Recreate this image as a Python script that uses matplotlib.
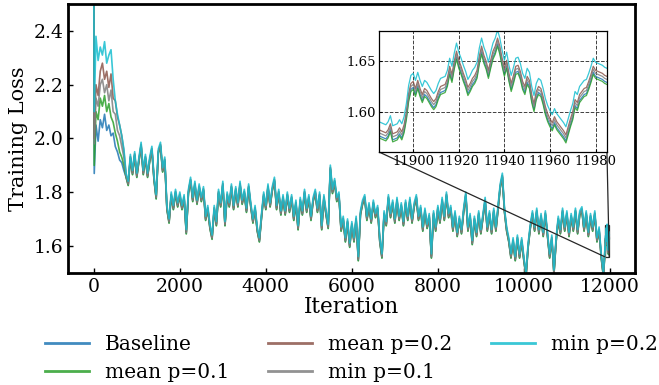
import matplotlib
matplotlib.use("Agg")
import matplotlib.pyplot as plt
import numpy as np
from mpl_toolkits.axes_grid1.inset_locator import mark_inset

plt.rcParams["font.family"] = ["DejaVu Serif"]

# series, in legend / drawing order
labels = ["Baseline", "mean p=0.1", "mean p=0.2", "min p=0.1", "min p=0.2"]
colors = ["tab:blue", "tab:green", "tab:brown", "tab:gray", "tab:cyan"]

# warm-up phase: every run read separately
iters_early = [0, 10, 50, 100, 150, 200, 250, 300, 350, 400, 450, 500, 550, 600, 650, 700]
early_baseline = [2.62, 1.87, 2.05, 1.99, 2.07, 2.04, 2.09, 2.03, 2.05, 2.01, 2.02, 1.97, 1.95, 1.92, 1.91, 1.88]
early_mean01 = [2.62, 1.90, 2.10, 2.07, 2.15, 2.12, 2.16, 2.10, 2.13, 2.08, 2.06, 2.02, 1.99, 1.95, 1.93, 1.90]
early_mean02 = [2.62, 2.00, 2.20, 2.16, 2.25, 2.28, 2.22, 2.25, 2.19, 2.24, 2.15, 2.14, 2.08, 2.05, 2.01, 1.95]
early_min01 = [2.62, 1.98, 2.15, 2.12, 2.20, 2.22, 2.17, 2.20, 2.14, 2.18, 2.10, 2.09, 2.03, 2.01, 1.97, 1.93]
early_min02 = [2.62, 2.10, 2.38, 2.29, 2.34, 2.31, 2.36, 2.28, 2.31, 2.33, 2.22, 2.14, 2.09, 2.05, 2.01, 1.96]

# rest of training (min p=0.1 curve, every 50 iterations from 750 to 11850)
loss_mid = [
    1.86, 1.83, 1.93, 1.87, 1.94, 1.86, 1.92, 1.975, 1.87, 1.93,
    1.86, 1.92, 1.96, 1.85, 1.78, 1.95, 1.975, 1.88, 1.92, 1.74,
    1.69, 1.79, 1.74, 1.80, 1.75, 1.79, 1.74, 1.78, 1.65, 1.80,
    1.845, 1.77, 1.83, 1.76, 1.82, 1.77, 1.81, 1.70, 1.74, 1.67,
    1.63, 1.74, 1.68, 1.80, 1.75, 1.83, 1.68, 1.79, 1.75, 1.82,
    1.74, 1.81, 1.75, 1.83, 1.76, 1.80, 1.73, 1.82, 1.75, 1.69,
    1.74, 1.66, 1.62, 1.71, 1.79, 1.74, 1.82, 1.75, 1.81, 1.845,
    1.74, 1.80, 1.72, 1.78, 1.72, 1.79, 1.73, 1.78, 1.70, 1.76,
    1.665, 1.77, 1.72, 1.80, 1.73, 1.78, 1.70, 1.77, 1.80, 1.73,
    1.79, 1.665, 1.78, 1.72, 1.67, 1.89, 1.80, 1.84, 1.77, 1.79,
    1.66, 1.70, 1.62, 1.69, 1.60, 1.68, 1.62, 1.70, 1.55, 1.72,
    1.76, 1.78, 1.70, 1.75, 1.69, 1.76, 1.71, 1.74, 1.62, 1.56,
    1.72, 1.68, 1.78, 1.71, 1.76, 1.69, 1.77, 1.70, 1.75, 1.68,
    1.76, 1.70, 1.77, 1.69, 1.75, 1.78, 1.70, 1.74, 1.66, 1.73,
    1.67, 1.71, 1.56, 1.72, 1.66, 1.74, 1.69, 1.77, 1.70, 1.79,
    1.71, 1.74, 1.66, 1.72, 1.64, 1.70, 1.65, 1.73, 1.79, 1.66,
    1.71, 1.61, 1.70, 1.64, 1.72, 1.65, 1.71, 1.77, 1.66, 1.72,
    1.65, 1.73, 1.66, 1.74, 1.82, 1.86, 1.73, 1.66, 1.62, 1.56,
    1.62, 1.55, 1.63, 1.56, 1.62, 1.55, 1.49, 1.60, 1.67, 1.72,
    1.66, 1.73, 1.65, 1.71, 1.64, 1.72, 1.64, 1.56, 1.63, 1.50,
    1.62, 1.70, 1.65, 1.73, 1.66, 1.72, 1.64, 1.71, 1.66, 1.73,
    1.65, 1.72, 1.735, 1.66, 1.72, 1.64, 1.71, 1.66, 1.72, 1.62,
    1.66, 1.56, 1.49,
]

# last 100 iterations, one per step (min p=0.1 curve)
loss_fine = [
    1.579, 1.578, 1.577, 1.576, 1.579, 1.585, 1.575, 1.576, 1.577, 1.581,
    1.577, 1.584, 1.597, 1.615, 1.625, 1.627, 1.620, 1.628, 1.620, 1.614,
    1.620, 1.618, 1.614, 1.610, 1.607, 1.610, 1.617, 1.622, 1.623, 1.624,
    1.630, 1.642, 1.634, 1.647, 1.657, 1.648, 1.642, 1.635, 1.629, 1.621,
    1.625, 1.630, 1.633, 1.638, 1.652, 1.662, 1.653, 1.647, 1.638, 1.648,
    1.657, 1.662, 1.670, 1.662, 1.650, 1.640, 1.648, 1.635, 1.625, 1.633,
    1.642, 1.643, 1.637, 1.627, 1.622, 1.632, 1.628, 1.614, 1.605, 1.617,
    1.622, 1.620, 1.612, 1.602, 1.595, 1.590, 1.586, 1.592, 1.587, 1.584,
    1.581, 1.578, 1.574, 1.582, 1.590, 1.597, 1.609, 1.606, 1.614, 1.617,
    1.620, 1.621, 1.627, 1.634, 1.642, 1.638, 1.637, 1.636, 1.635, 1.633,
    1.632,
]

# offset of each run from the min p=0.1 curve after warm-up
late_gaps = [-0.003, -0.005, 0.003, 0.0, 0.011]

iters_mid = np.arange(750, 11851, 50)
iters_fine = np.arange(11885, 11986)
iters = np.concatenate([iters_early, iters_mid, iters_fine])
early = [early_baseline, early_mean01, early_mean02, early_min01, early_min02]

fig, ax = plt.subplots(figsize=(6.59, 3.85), dpi=100)
fig.subplots_adjust(left=0.1032, right=0.9636, top=0.9896, bottom=0.291)

axins = ax.inset_axes([0.5485, 0.4498, 0.402, 0.4498])

for lab, c, e, g in zip(labels, colors, early, late_gaps):
    y = np.concatenate([e, np.array(loss_mid) + g, np.array(loss_fine) + g])
    ax.plot(iters, y, color=c, lw=1.2, alpha=0.85, label=lab)
    axins.plot(iters, y, color=c, lw=0.9, alpha=0.85)

ax.set_xlim(-600, 12585)
ax.set_ylim(1.5, 2.5)
ax.set_yticks([1.6, 1.8, 2.0, 2.2, 2.4])
ax.set_xlabel("Iteration", fontsize=15.5, labelpad=0)
ax.set_ylabel("Training Loss", fontsize=15)
ax.tick_params(direction="in", labelsize=13.5, length=3.5, width=1)
for s in ax.spines.values():
    s.set_linewidth(2)

axins.set_xlim(11885, 11985)
axins.set_ylim(1.56, 1.68)
axins.set_xticks([11900, 11920, 11940, 11960, 11980])
axins.set_yticks([1.60, 1.65])
axins.tick_params(direction="in", labelsize=9.5, length=2, pad=2)
axins.grid(True, ls="--", color="0.25", lw=0.7)
for s in axins.spines.values():
    s.set_linewidth(0.9)

mark_inset(ax, axins, loc1=3, loc2=4, fc="none", ec="0.15", lw=0.9)

leg = ax.legend(loc="upper center", bbox_to_anchor=(0.5, -0.165), ncol=3, frameon=False,
                fontsize=14.5, handlelength=2.2, handletextpad=0.8,
                columnspacing=1.9, labelspacing=0.42)
for ln in leg.get_lines():
    ln.set_linewidth(2)

fig.savefig("out.png", dpi=100)
